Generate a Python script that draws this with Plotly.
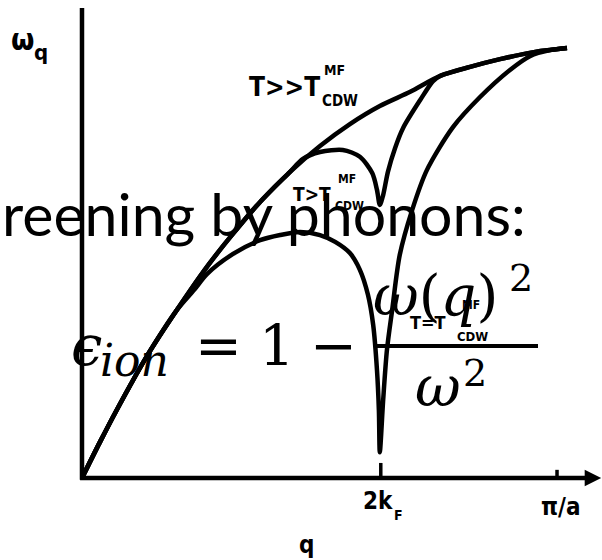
import plotly.graph_objects as go

# Phonon dispersion omega(q) near the CDW transition (Kohn anomaly at 2kF).
# q in units of pi/a, omega normalised to its zone-boundary value.

q_hot = [0.0, 0.038, 0.074, 0.137, 0.200, 0.263, 0.312, 0.375, 0.438, 0.501,
         0.564, 0.627, 0.691, 0.754, 0.817, 0.880, 0.954, 1.021]
w_hot = [0.0, 0.084, 0.160, 0.284, 0.391, 0.491, 0.560, 0.642, 0.712, 0.772,
         0.823, 0.865, 0.898, 0.935, 0.956, 0.974, 0.991, 1.000]

q_warm = [0.0, 0.038, 0.074, 0.137, 0.200, 0.263, 0.312, 0.375, 0.438, 0.465,
          0.501, 0.549, 0.585, 0.611, 0.621, 0.627, 0.634, 0.644, 0.659, 0.676,
          0.712, 0.739, 0.754, 0.817, 0.880, 0.954, 1.021]
w_warm = [0.0, 0.084, 0.160, 0.284, 0.391, 0.491, 0.560, 0.642, 0.712, 0.742,
          0.758, 0.763, 0.747, 0.709, 0.670, 0.635, 0.658, 0.712, 0.767, 0.814,
          0.879, 0.923, 0.935, 0.956, 0.974, 0.991, 1.000]

q_tc = [0.0, 0.038, 0.074, 0.137, 0.200, 0.238, 0.263, 0.318, 0.375, 0.417,
        0.459, 0.501, 0.533, 0.564, 0.585, 0.602, 0.613, 0.621, 0.625, 0.627,
        0.634, 0.642, 0.653, 0.669, 0.695, 0.726, 0.781, 0.838, 0.901, 0.943,
        0.985, 1.021]
w_tc = [0.0, 0.084, 0.160, 0.284, 0.391, 0.440, 0.474, 0.521, 0.553, 0.565,
        0.572, 0.565, 0.549, 0.523, 0.484, 0.426, 0.356, 0.251, 0.158, 0.060,
        0.181, 0.298, 0.391, 0.519, 0.623, 0.716, 0.816, 0.886, 0.949, 0.981,
        0.995, 1.000]

tick_q = [0.629, 1.0]
tick_len = [0.035, 0.019]
tick_labels = ["2k", "π/a"]

W, H = 602, 560
X_RANGE = [-0.1726, 1.0947]
Y_RANGE = [-0.1907, 1.1116]

INK = "black"
SCAN_FONT = "Liberation Sans Narrow, DejaVu Sans Condensed, Liberation Sans, sans-serif"
MATH_FONT = "DejaVu Serif, Liberation Serif, serif"
BODY_FONT = "Lato, Open Sans, sans-serif"

fig = go.Figure()

# axes
fig.add_trace(go.Scatter(x=[0, 0], y=[-0.004, 1.093], mode="lines",
                         line=dict(color=INK, width=4.5), hoverinfo="skip"))
fig.add_trace(go.Scatter(x=[-0.004, 1.06], y=[0, 0], mode="lines",
                         line=dict(color=INK, width=4.5), hoverinfo="skip"))
for tq, tl in zip(tick_q, tick_len):
    fig.add_trace(go.Scatter(x=[tq, tq], y=[0, tl], mode="lines",
                             line=dict(color=INK, width=3.5), hoverinfo="skip"))

# dispersion branches
for qs, ws in [(q_hot, w_hot), (q_warm, w_warm), (q_tc, w_tc)]:
    fig.add_trace(go.Scatter(x=qs, y=ws, mode="lines",
                             line=dict(color=INK, width=4.5, shape="spline", smoothing=0.8),
                             hoverinfo="skip"))


def note(text, x, y, size, family=SCAN_FONT, xanchor="center", yanchor="middle"):
    return dict(text=text, x=x / W, y=1 - y / H, xref="paper", yref="paper",
                xanchor=xanchor, yanchor=yanchor, showarrow=False,
                font=dict(family=family, size=size, color=INK))


ann = [
    # x-axis arrow head
    dict(x=1.093, y=0, ax=1.03, ay=0, xref="x", yref="y", axref="x", ayref="y",
         text="", showarrow=True, arrowhead=2, arrowsize=1.1, arrowwidth=3,
         arrowcolor=INK),
    note("<b>ω</b>", 22, 40, 30),
    note("<b>q</b>", 41, 52, 22),
    note("<b>T>>T</b>", 284, 87, 26),
    note("<b>MF</b>", 334, 70, 14),
    note("<b>CDW</b>", 340, 101, 15),
    note("<b>T>T</b>", 312, 194, 19),
    note("<b>MF</b>", 347, 179, 12),
    note("<b>CDW</b>", 349, 206, 12),
    note("<b>T=T</b>", 428, 322, 18),
    note("<b>MF</b>", 471, 305, 12),
    note("<b>CDW</b>", 472, 336, 13),
    note("<b>" + tick_labels[0] + "</b>", 378, 501, 24),
    note("<b>F</b>", 398, 515, 14),
    note("<b>" + tick_labels[1] + "</b>", 561, 507, 24),
    note("<b>q</b>", 306, 545, 24),
    # overlaid slide text
    note("reening by phonons:", 0, 213, 59, family=BODY_FONT, xanchor="left"),
    note("<i>ϵ</i>", 86, 345, 56, family=MATH_FONT),
    note("<i>ion</i>", 134, 360, 44, family=MATH_FONT),
    note("=", 218, 345, 56, family=MATH_FONT),
    note("1", 277, 345, 56, family=MATH_FONT),
    note("−", 333, 345, 56, family=MATH_FONT),
    note("<i>ω</i>(<i>q</i>)", 435, 295, 56, family=MATH_FONT),
    note("2", 521, 278, 38, family=MATH_FONT),
    note("<i>ω</i>", 438, 386, 56, family=MATH_FONT),
    note("2", 475, 373, 38, family=MATH_FONT),
]

shapes = [
    dict(type="line", xref="paper", yref="paper",
         x0=376 / W, x1=538 / W, y0=1 - 346 / H, y1=1 - 346 / H,
         line=dict(color=INK, width=4)),
]

fig.update_layout(
    width=W, height=H, margin=dict(l=0, r=0, t=0, b=0),
    paper_bgcolor="white", plot_bgcolor="white", showlegend=False,
    xaxis=dict(range=X_RANGE, visible=False, fixedrange=True),
    yaxis=dict(range=Y_RANGE, visible=False, fixedrange=True),
    annotations=ann, shapes=shapes,
)

fig.write_html("out.html")
